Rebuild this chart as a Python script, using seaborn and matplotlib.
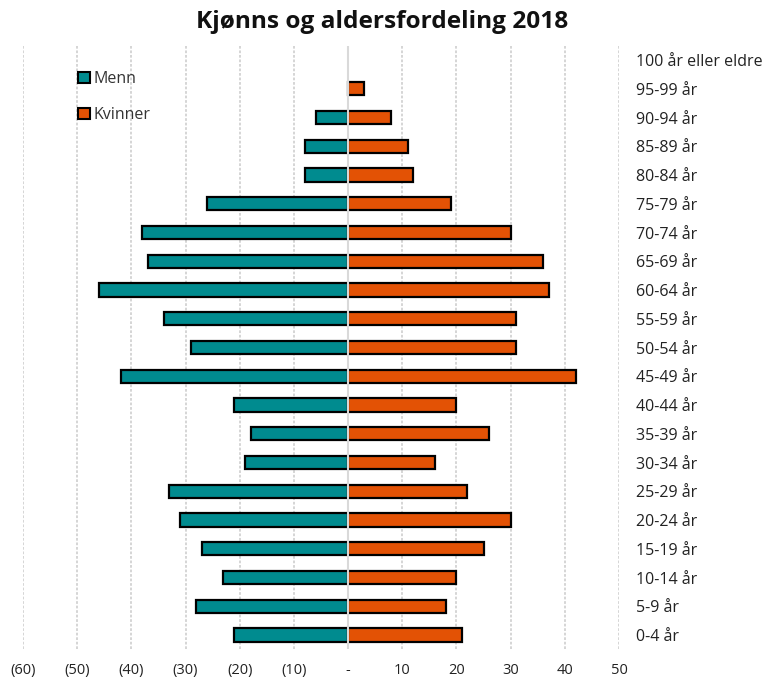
import matplotlib
matplotlib.use("Agg")
import matplotlib.pyplot as plt
import seaborn as sns
import pandas as pd
from matplotlib.patches import Patch
from matplotlib.ticker import FuncFormatter

age_groups = ["100 år eller eldre", "95-99 år", "90-94 år", "85-89 år", "80-84 år",
              "75-79 år", "70-74 år", "65-69 år", "60-64 år", "55-59 år",
              "50-54 år", "45-49 år", "40-44 år", "35-39 år", "30-34 år",
              "25-29 år", "20-24 år", "15-19 år", "10-14 år", "5-9 år", "0-4 år"]
menn = [0, 0, -6, -8, -8, -26, -38, -37, -46, -34, -29, -42, -21, -18, -19,
        -33, -31, -27, -23, -28, -21]
kvinner = [0, 3, 8, 11, 12, 19, 30, 36, 37, 31, 31, 42, 20, 26, 16,
           22, 30, 25, 20, 18, 21]
series = ["Menn", "Kvinner"]
colors = ["#008B8F", "#E35205"]
x_ticks = list(range(-60, 51, 10))

df = pd.DataFrame({
    "Aldersgruppe": age_groups * 2,
    "Antall": menn + kvinner,
    "Kjønn": [series[0]] * len(age_groups) + [series[1]] * len(age_groups),
})

sns.set_theme(style="white")
plt.rcParams["font.family"] = ["Open Sans", "DejaVu Sans"]

fig = plt.figure(figsize=(7.79, 6.79), dpi=100)
ax = fig.add_axes([0.0295, 0.0436, 0.7651, 0.8892])

sns.barplot(data=df, y="Aldersgruppe", x="Antall", hue="Kjønn", order=age_groups,
            hue_order=series, palette=colors, saturation=1, dodge=False, width=0.46,
            edgecolor="black", linewidth=1.6, orient="h", ax=ax, zorder=3,
            legend=False)

# hide zero-length bars (no visible mark in the reference)
for p in ax.patches:
    if abs(p.get_width()) < 1e-9:
        p.set_visible(False)

ax.set_xlim(-60, 50)
ax.set_ylim(len(age_groups) - 0.5, -0.5)
ax.set_xticks(x_ticks)

def fmt(v, pos):
    v = int(round(v))
    if v < 0:
        return f"({-v})"
    if v == 0:
        return "-"
    return str(v)

ax.xaxis.set_major_formatter(FuncFormatter(fmt))
ax.grid(axis="x", color="#d2d2d2", linestyle=(0, (1.5, 1)), linewidth=1.3, zorder=0)
ax.grid(axis="y", visible=False)
ax.axvline(0, color="#d9d9d9", linewidth=1.5, zorder=4)
for s in ax.spines.values():
    s.set_visible(False)

ax.yaxis.tick_right()
ax.tick_params(axis="y", length=0, pad=12, labelsize=11.5, labelcolor="#222222")
ax.tick_params(axis="x", length=0, pad=10, labelsize=10.5, labelcolor="#222222")
for lbl in ax.get_yticklabels():
    lbl.set_horizontalalignment("left")
ax.set_xlabel("")
ax.set_ylabel("")

handles = [Patch(facecolor=c, edgecolor="black", linewidth=1.5) for c in colors]
ax.legend(handles, series, loc="upper left", bbox_to_anchor=(0.092, 0.958), frameon=False,
          fontsize=11.5, labelspacing=1.25, handlelength=0.75, handleheight=0.75,
          handletextpad=0.25, borderpad=0, borderaxespad=0, labelcolor="#333333")

fig.suptitle("Kjønns og aldersfordeling 2018", fontsize=17.6, fontweight="bold",
             x=0.49, y=0.986, color="#111111")

fig.savefig("out.png", dpi=100)
